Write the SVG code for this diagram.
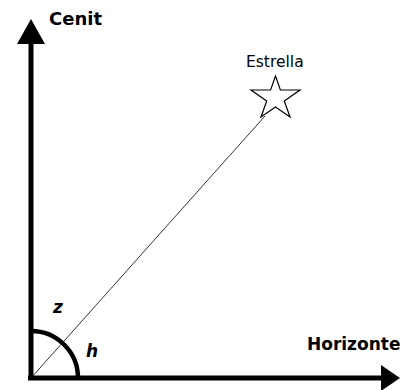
<svg xmlns="http://www.w3.org/2000/svg" width="400" height="390" viewBox="0 0 400 390">
<style>
.axis{stroke:#000;stroke-width:5;fill:none}
.lbl{font-family:"DejaVu Sans",Verdana,sans-serif;fill:#000}
.b{font-weight:bold}
</style>
<rect width="400" height="390" fill="#fff"/>
<g id="connectors">
<line class="axis" x1="31" y1="380" x2="31" y2="40"/>
<polygon points="31,19 17,44 45,44" fill="#000"/>
<line class="axis" x1="28" y1="378" x2="385" y2="378"/>
<polygon points="400,378 381,365 381,391" fill="#000"/>
<line x1="31" y1="378" x2="265" y2="116" stroke="#000" stroke-width="0.8"/>
<path d="M31,331 A47,47 0 0 1 78,378" stroke="#000" stroke-width="4.5" fill="none"/>
</g>
<g id="cenit"><text class="lbl b" x="49" y="25" font-size="18">Cenit</text></g>
<g id="horizonte"><text class="lbl b" x="307" y="350" font-size="17">Horizonte</text></g>
<g id="estrella">
<text class="lbl" x="246" y="67" font-size="15.5" fill="#222">Estrella</text>
<polygon points="275.5,76 280.4,90 300,90 284.3,100.9 290,117 275.5,107 261,117 266.7,100.9 251,90 270.6,90" fill="#fff" stroke="#000" stroke-width="1.2"/>
</g>
<g id="z"><text class="lbl b" x="53" y="313" font-size="17" font-style="italic">z</text></g>
<g id="h"><text class="lbl b" x="86" y="357" font-size="17" font-style="italic">h</text></g>
</svg>
